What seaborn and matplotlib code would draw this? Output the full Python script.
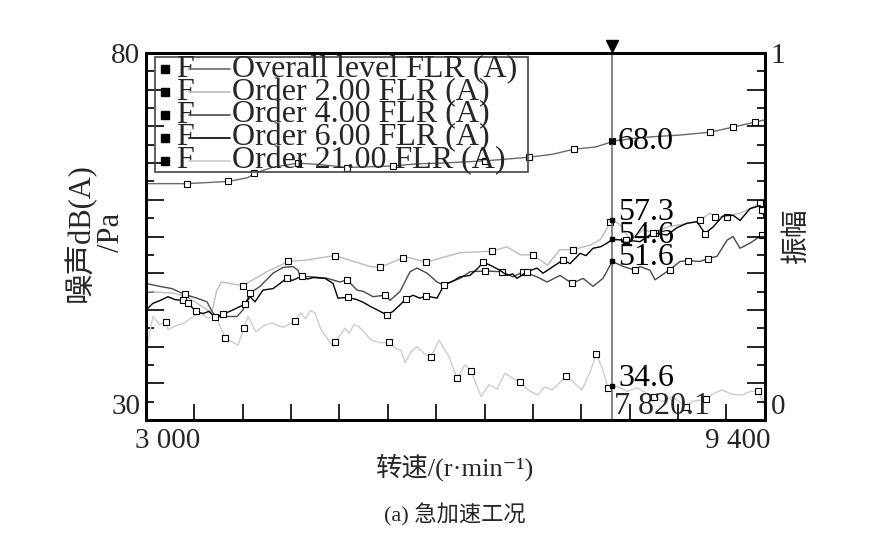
import numpy as np
import matplotlib
matplotlib.use("Agg")
import matplotlib.pyplot as plt
import matplotlib.transforms as mtransforms
from matplotlib.lines import Line2D
from matplotlib.patches import Rectangle
import seaborn as sns

# ---- data ----
overall_rpm = [3000, 3420, 3850, 4050, 4120, 4300, 4570, 4800, 5080, 5300, 5550, 5800,
               6050, 6500, 6960, 7200, 7430, 7650, 7770, 7820, 7950, 8060, 8250, 8500,
               8830, 9070, 9300, 9400]
overall_db = [62.2, 62.2, 62.5, 63.0, 63.6, 64.4, 65.0, 64.8, 64.4, 64.5, 64.6, 64.9,
              65.0, 65.3, 65.8, 66.2, 66.9, 67.2, 67.7, 68.0, 68.2, 68.4, 68.6, 68.8,
              69.2, 69.9, 70.6, 70.9]
overall_mk = [1, 2, 4, 6, 8, 10, 13, 14, 16, 19, 24, 25, 26]

order2_rpm = [3000, 3270, 3420, 3600, 3680, 3730, 3780, 4000, 4250, 4470, 4660, 4950,
              5320, 5420, 5660, 5730, 5900, 6110, 6250, 6580, 6730, 6870, 7000, 7150,
              7280, 7410, 7590, 7700, 7770, 7800, 7820, 7900, 8010, 8140, 8260, 8390,
              8520, 8730, 8830, 8880, 9010, 9140, 9250, 9350, 9400]
order2_db = [47.5, 47.3, 46.8, 45.3, 44.6, 47.6, 48.8, 48.3, 50.2, 51.6, 51.8, 52.4,
             50.9, 50.8, 52.1, 52.1, 51.5, 52.3, 52.8, 53.0, 53.6, 52.5, 52.5, 51.1,
             53.2, 53.2, 53.8, 54.6, 56.2, 57.0, 57.3, 56.6, 54.5, 55.9, 55.5, 56.3,
             56.6, 57.2, 58.2, 57.7, 57.7, 58.2, 58.8, 59.6, 59.3]
order2_mk = [7, 9, 11, 13, 14, 16, 19, 22, 25, 29, 34, 37, 39, 40, 43]

order4_rpm = [3000, 3145, 3269, 3400, 3527, 3631, 3682, 3724, 3838, 3941, 4003, 4075,
              4179, 4313, 4417, 4520, 4572, 4592, 4727, 4872, 5006, 5078, 5182, 5250,
              5347, 5471, 5523, 5626, 5730, 5802, 5906, 6009, 6071, 6247, 6350, 6505,
              6681, 6795, 6898, 7043, 7146, 7281, 7405, 7519, 7622, 7725, 7820, 7937,
              8061, 8108, 8211, 8263, 8418, 8521, 8604, 8728, 8811, 8904, 9007, 9069,
              9142, 9245, 9370, 9400]
order4_db = [48.6, 48.2, 47.9, 47.1, 46.6, 46.1, 44.8, 44.1, 44.1, 44.1, 45.0, 47.3,
             48.2, 50.0, 50.8, 50.9, 50.4, 49.6, 49.5, 49.3, 48.8, 49.1, 47.7, 47.5,
             46.8, 47.0, 46.3, 47.5, 50.2, 50.7, 50.0, 48.8, 48.4, 49.3, 50.2, 50.3,
             50.2, 49.5, 50.2, 49.5, 48.8, 49.7, 48.6, 49.3, 48.2, 49.3, 51.6, 50.9,
             50.4, 50.9, 50.4, 49.1, 50.5, 51.6, 51.7, 51.6, 52.0, 52.3, 54.5, 55.0,
             53.4, 54.1, 55.2, 55.0]
order4_mk = [3, 11, 21, 25, 35, 36, 38, 42, 48, 52, 54, 56, 62]

order6_rpm = [3000, 3072, 3150, 3227, 3300, 3383, 3434, 3517, 3589, 3650, 3713, 3796,
              3900, 4024, 4075, 4127, 4210, 4313, 4406, 4458, 4510, 4561, 4613, 4670,
              4727, 4851, 4934, 4985, 5089, 5182, 5250, 5316, 5420, 5492, 5554, 5620,
              5688, 5761, 5830, 5895, 6009, 6081, 6170, 6247, 6350, 6433, 6485, 6557,
              6660, 6733, 6790, 6836, 6940, 7043, 7105, 7208, 7312, 7384, 7488, 7550,
              7622, 7700, 7767, 7820, 7958, 8108, 8242, 8387, 8490, 8594, 8697, 8780,
              8863, 8966, 9069, 9142, 9245, 9349, 9370, 9400]
order6_db = [45.0, 45.9, 46.3, 46.8, 46.4, 46.3, 45.9, 44.8, 44.5, 44.8, 44.0, 44.4,
             45.0, 45.8, 46.8, 46.1, 47.7, 47.9, 48.8, 49.4, 49.0, 49.3, 49.6, 49.2,
             49.4, 49.3, 48.6, 46.6, 46.7, 46.4, 46.0, 45.5, 44.8, 44.3, 44.8, 45.6,
             46.5, 47.0, 46.6, 46.9, 46.6, 48.4, 48.9, 49.5, 49.7, 50.7, 51.5, 51.1,
             50.4, 49.7, 49.9, 49.3, 50.2, 50.7, 50.0, 50.9, 51.8, 51.3, 52.7, 52.4,
             53.4, 53.6, 54.1, 54.6, 54.5, 54.3, 55.5, 55.2, 56.2, 56.8, 57.0, 55.4,
             56.3, 57.8, 57.9, 57.2, 58.8, 59.2, 58.6, 57.2]
order6_mk = [5, 6, 7, 10, 11, 13, 19, 22, 28, 33, 36, 39, 41, 46, 52, 56, 64, 66, 71, 78]

order21_rpm = [3010, 3072, 3140, 3207, 3227, 3300, 3393, 3480, 3558, 3640, 3724, 3817,
               3951, 4013, 4055, 4137, 4220, 4303, 4420, 4541, 4603, 4650, 4700, 4747,
               4810, 4934, 4954, 5058, 5100, 5150, 5202, 5260, 5326, 5430, 5513, 5580,
               5637, 5678, 5740, 5802, 5880, 5947, 6030, 6133, 6216, 6298, 6360, 6464,
               6547, 6630, 6712, 6800, 6867, 6960, 7053, 7120, 7198, 7270, 7343, 7430,
               7508, 7600, 7653, 7720, 7777, 7820, 7885, 7980, 8080, 8180, 8253, 8340,
               8440, 8520, 8584, 8660, 8749, 8790, 8870, 8956, 9060, 9162, 9250, 9328,
               9400]
order21_db = [40.0, 44.1, 43.0, 43.4, 42.3, 42.8, 43.2, 44.0, 44.6, 43.9, 44.1, 41.2,
              40.2, 42.5, 44.1, 42.0, 42.9, 43.2, 42.6, 43.5, 44.6, 43.8, 44.9, 44.6,
              42.3, 40.0, 40.6, 42.5, 41.8, 43.0, 42.7, 41.9, 40.9, 40.5, 40.6, 39.8,
              39.5, 37.8, 39.3, 40.0, 39.0, 38.6, 40.9, 38.6, 35.7, 37.5, 36.7, 33.2,
              34.8, 34.2, 36.4, 35.6, 35.2, 34.0, 33.4, 34.5, 34.1, 35.0, 36.0, 35.0,
              34.1, 36.8, 39.0, 37.0, 34.4, 34.6, 34.5, 33.9, 34.4, 33.6, 33.2, 32.5,
              33.2, 32.4, 31.8, 32.6, 32.7, 32.9, 33.6, 34.1, 33.5, 33.4, 33.9, 34.0,
              31.8]
order21_mk = [3, 11, 13, 19, 26, 34, 41, 44, 46, 52, 58, 62, 64, 70, 74, 77, 83]

legend_labels = ["Overall level FLR (A)", "Order 2.00 FLR (A)", "Order 4.00 FLR (A)",
                 "Order 6.00 FLR (A)", "Order 21.00 FLR (A)"]
line_colors = ["#6a6a6a", "#bcbcbc", "#4a4a4a", "#000000", "#cdcdcd"]

cursor_rpm = 7820.1
cursor_vals = [68.0, 57.3, 54.6, 51.6, 34.6]
cursor_text_dy = [0.0, 1.0, 0.6, 0.6, 1.0]

# ---- style ----
sns.set_theme(style="white")
plt.rcParams["font.family"] = ["Liberation Serif", "Noto Sans CJK SC", "DejaVu Sans"]

fig = plt.figure(figsize=(8.88, 5.36), dpi=100)
ax = fig.add_axes([146 / 888, 1 - 420 / 536, 619 / 888, 367 / 536])

series = [
    (overall_rpm, overall_db, overall_mk),
    (order2_rpm, order2_db, order2_mk),
    (order4_rpm, order4_db, order4_mk),
    (order6_rpm, order6_db, order6_mk),
    (order21_rpm, order21_db, order21_mk),
]
draw_order = [4, 1, 2, 3, 0]
for i in draw_order:
    rpm, db, mk = series[i]
    sns.lineplot(x=rpm, y=db, ax=ax, color=line_colors[i], lw=1.0, sort=False,
                 marker="s", markevery=mk, markersize=4.5, markerfacecolor="white",
                 markeredgecolor="black", markeredgewidth=0.8)

ax.set_xlim(3000, 9400)
ax.set_ylim(30, 80)

# cursor
ax.axvline(cursor_rpm, color="#707070", lw=1.2, zorder=5)
tri = mtransforms.offset_copy(ax.transData, fig=fig, x=0, y=5, units="points")
ax.plot([cursor_rpm], [80], marker="v", color="black", ms=8, clip_on=False,
        transform=tri, zorder=6)
ax.plot([cursor_rpm] * len(cursor_vals), cursor_vals, "s", color="black", ms=3.2, zorder=6)
for v, dy in zip(cursor_vals, cursor_text_dy):
    ax.text(cursor_rpm + 60, v + dy, f"{v:.1f}", fontsize=23, va="center", ha="left",
            color="black", zorder=7)
ax.annotate("7 820.1", xy=(cursor_rpm, 30), xytext=(1, 10), textcoords="offset points",
            fontsize=23, ha="left", va="center")

# spines
for s in ax.spines.values():
    s.set_color("black")
    s.set_linewidth(2.0)

# x ticks
ax.set_xticks([3000, 9400])
ax.set_xticklabels(["3 000", "9 400"], fontsize=21)
ax.set_xticks(np.arange(3500, 9001, 500), minor=True)
ax.tick_params(axis="x", which="major", length=0, pad=6)
ax.tick_params(axis="x", which="minor", direction="in", length=11.5, width=1.2,
               color="black", bottom=True, top=False)
xl = ax.get_xticklabels()
xl[0].set_transform(xl[0].get_transform() + mtransforms.ScaledTranslation(0.22, 0, fig.dpi_scale_trans))
xl[1].set_transform(xl[1].get_transform() + mtransforms.ScaledTranslation(-0.27, 0, fig.dpi_scale_trans))

# left y ticks
ax.set_yticks(np.arange(30, 81, 5))
ax.set_yticklabels(["30"] + [""] * 9 + ["80"], fontsize=21)
ax.set_yticks(np.arange(32.5, 80, 5), minor=True)
ax.tick_params(axis="y", which="major", direction="in", length=13, width=1.2,
               color="black", left=True, right=False, pad=4)
ax.tick_params(axis="y", which="minor", direction="in", length=6, width=1.2,
               color="black", left=True, right=False)
yl = ax.get_yticklabels()
yl[0].set_va("bottom")

ax.set_xlabel("转速/(r·min⁻¹)", fontsize=19, va="center")
ax.xaxis.set_label_coords(0.499, -0.128)
ax.set_ylabel("噪声dB(A)\n/Pa", fontsize=22, linespacing=1.05, va="center")
ax.yaxis.set_label_coords(-0.082, 0.512)

# right axis
ax2 = ax.twinx()
ax2.set_ylim(0, 1)
ax2.set_yticks(np.arange(0, 1.01, 0.1))
ax2.set_yticklabels(["0"] + [""] * 9 + ["1"], fontsize=21)
ax2.set_yticks(np.arange(0.05, 1.0, 0.1), minor=True)
ax2.tick_params(axis="y", which="major", direction="in", length=13, width=1.2,
                color="black", right=True, left=False, pad=4)
ax2.tick_params(axis="y", which="minor", direction="in", length=6, width=1.2,
                color="black", right=True, left=False)
ax2.get_yticklabels()[0].set_va("bottom")
for s in ax2.spines.values():
    s.set_color("black")
    s.set_linewidth(2.0)
ax2.set_ylabel("振幅", fontsize=20, rotation=90, va="center")
ax2.yaxis.set_label_coords(1.052, 0.504)
ax2.grid(False)
ax.grid(False)

# legend drawn by hand so it keeps the "■ F ——" layout
ax.add_patch(Rectangle((0.0145, 0.676), 0.6025, 0.313, transform=ax.transAxes,
                       fill=False, edgecolor="#444444", lw=1.2, zorder=8))
for k, (lab, col) in enumerate(zip(legend_labels, line_colors)):
    fy = 0.956 - k * 0.0625
    ax.plot([0.031], [fy], "s", color="black", ms=6, transform=ax.transAxes, zorder=9)
    ax.text(0.048, fy, "F", fontsize=23, va="center", ha="left", transform=ax.transAxes, zorder=9)
    ax.add_line(Line2D([0.070, 0.136], [fy, fy], color=col, lw=1.2, transform=ax.transAxes, zorder=9))
    ax.text(0.139, fy, lab, fontsize=23, va="center", ha="left", transform=ax.transAxes, zorder=9)

fig.text(455 / 888, 1 - 515 / 536, "(a) 急加速工况", fontsize=16, ha="center", va="center")

fig.savefig("out.png", dpi=100, facecolor="white")
